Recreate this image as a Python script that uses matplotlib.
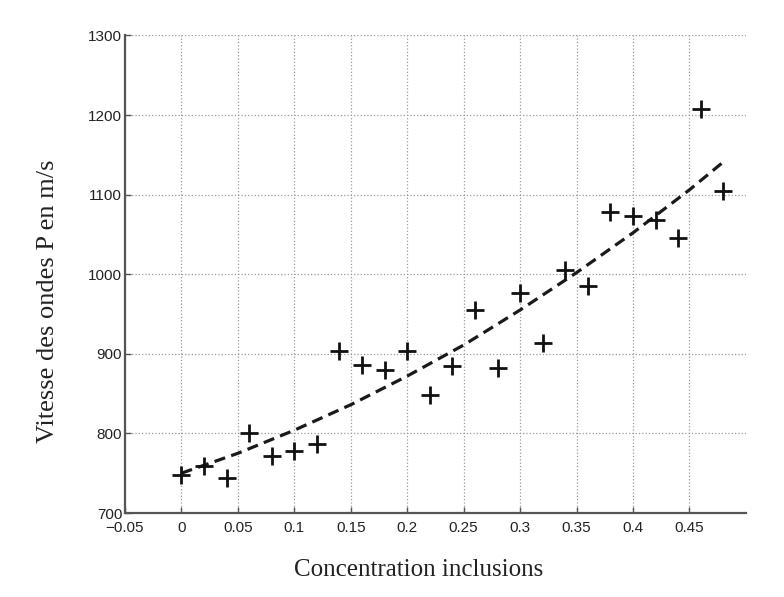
import matplotlib
matplotlib.use('Agg')
import matplotlib.pyplot as plt

# measured points (concentration, P-wave speed in m/s)
conc = [0.0, 0.02, 0.04, 0.06, 0.08, 0.10, 0.12, 0.14, 0.16, 0.18, 0.20, 0.22,
        0.24, 0.26, 0.28, 0.30, 0.32, 0.34, 0.36, 0.38, 0.40, 0.42, 0.44, 0.46, 0.48]
vitesse = [748, 759, 744, 801, 771, 778, 787, 903, 886, 880, 904, 848,
           885, 955, 882, 976, 914, 1005, 985, 1078, 1073, 1068, 1046, 1208, 1105]

# dashed trend curve
fit_x = [0.0, 0.05, 0.10, 0.15, 0.20, 0.25, 0.30, 0.35, 0.40, 0.45, 0.48]
fit_y = [750, 775, 804, 836, 872, 911, 955, 1002, 1052, 1106, 1141]

xticks = [-0.05, 0, 0.05, 0.1, 0.15, 0.2, 0.25, 0.3, 0.35, 0.4, 0.45]
xticklabels = ['\u22120.05', '0', '0.05', '0.1', '0.15', '0.2', '0.25', '0.3', '0.35', '0.4', '0.45']
yticks = [700, 800, 900, 1000, 1100, 1200, 1300]

fig = plt.figure(figsize=(7.84, 5.97), dpi=100)
ax = fig.add_axes([0.1594, 0.1407, 0.792, 0.800])

ax.plot(fit_x, fit_y, color='#1a1a1a', linestyle=(0, (3.5, 2)), linewidth=2.3, zorder=3)
ax.plot(conc, vitesse, linestyle='none', marker='+', markersize=13,
        markeredgewidth=2.0, color='#111111', zorder=4)

ax.set_xlim(-0.05, 0.5)
ax.set_ylim(700, 1300)
ax.set_xticks(xticks)
ax.set_xticklabels(xticklabels)
ax.set_yticks(yticks)

ax.grid(True, color='#9a9a9a', linestyle=':', linewidth=0.9)
ax.set_axisbelow(True)

for side in ['top', 'right']:
    ax.spines[side].set_visible(False)
for side in ['left', 'bottom']:
    ax.spines[side].set_color('#555555')
    ax.spines[side].set_linewidth(1.6)

ax.tick_params(direction='in', length=4, width=1, color='#555555',
               labelsize=11, labelcolor='#222222', pad=2)
ax.tick_params(axis='x', pad=6)
for lab in ax.get_xticklabels() + ax.get_yticklabels():
    lab.set_family(['Liberation Sans', 'DejaVu Sans'])

ax.set_xlabel('Concentration inclusions', fontsize=18, family='Liberation Serif',
              color='#222222')
ax.set_ylabel('Vitesse des ondes P en m/s', fontsize=19, family='Liberation Serif',
              color='#222222')
ax.xaxis.set_label_coords(0.473, -0.096)
ax.yaxis.set_label_coords(-0.106, 0.444)

plt.savefig('out.png', dpi=100)
plt.close()
